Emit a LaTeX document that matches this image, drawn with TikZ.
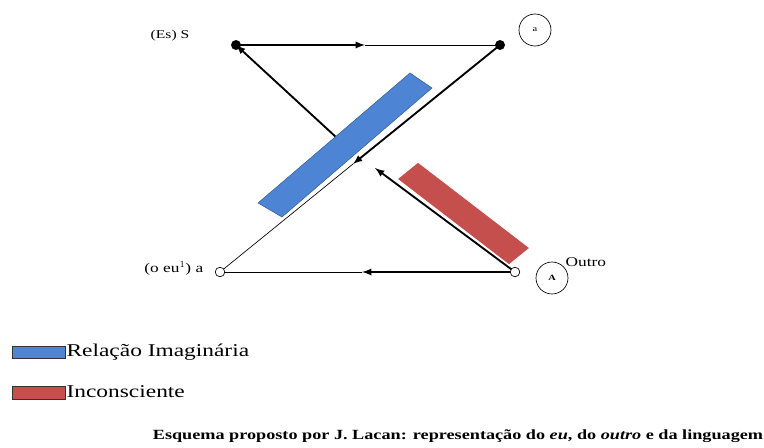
\documentclass[tikz,border=0pt]{standalone}
\usepackage{fontspec}
\setmainfont[FakeStretch=1.3]{Liberation Serif}
\usepackage{tikz}

\definecolor{imagblue}{RGB}{77,133,212}
\definecolor{inconred}{RGB}{196,79,76}

\begin{document}
\begin{tikzpicture}[x=0.75pt,y=-0.75pt,
	fwd/.style={line width=1.4pt, -latex},
	back/.style={line width=0.5pt},
	tag/.style={circle, draw, line width=0.5pt, minimum size=24pt, inner sep=0pt}]
	\useasboundingbox (0,0) rectangle (764,447);

	% the four places of the scheme
	\coordinate (S) at (236,45);
	\coordinate (a) at (500,45);
	\coordinate (eu) at (220,272);
	\coordinate (A) at (515,272);

	% half-way points where the arrow tips sit
	\coordinate (topmid) at (365,45);
	\coordinate (botmid) at (362,272);
	\coordinate (diagmid) at (353,164);
	\coordinate (outmid) at (375,168);
	\coordinate (imagend) at (337,138);

	\draw [fwd] (S) -- (topmid); \draw [back] (topmid) -- (a);
	\draw [fwd] (A) -- (botmid); \draw [back] (botmid) -- (eu);
	\draw [fwd] (a) -- (diagmid); \draw [back] (diagmid) -- (eu);
	\draw [fwd] (A) -- (outmid);
	\draw [fwd] (imagend) -- (S);

	% imaginary relation and unconscious
	\filldraw [fill=imagblue, draw=imagblue!70!black, line width=0.4pt]
		(258,203) -- (410,73) -- (432,88) -- (282,217) -- cycle;
	\filldraw [fill=inconred, draw=white, line width=0.8pt]
		(397,179) -- (418,162) -- (530,248) -- (509,265) -- cycle;

	\filldraw (S) circle (3.5pt);
	\filldraw (a) circle (3.5pt);
	\filldraw [fill=white, line width=0.5pt] (eu) circle (3.6pt);
	\filldraw [fill=white, line width=0.5pt] (A) circle (3.6pt);

	\node[tag] (taga) at (535,30) {\fontsize{6}{7}\selectfont a};
	\node[tag] (tagA) at (552,278) {\fontsize{6}{7}\selectfont\bfseries A};

	\node[left] (lblS) at (194,36) {\fontsize{9}{11}\selectfont (Es) S};
	\node[left] (lbleu) at (208,268) {\fontsize{10}{12}\selectfont (o eu$^{1}$) a};
	\node[right] (lblA) at (561,262) {\fontsize{10}{12}\selectfont Outro};

	% legend
	\filldraw [fill=imagblue, draw=black!80, line width=0.6pt] (12,346) rectangle (65,358);
	\node[right, inner sep=1pt] (legimag) at (65,352) {\fontsize{13.5}{15}\selectfont Relação Imaginária};
	\filldraw [fill=inconred, draw=black!80, line width=0.6pt] (12,386) rectangle (65,399);
	\node[right, inner sep=1pt] (leginc) at (65,392) {\fontsize{13.5}{15}\selectfont Inconsciente};

	\node (caption) at (458,436) {\fontsize{10.5}{12}\selectfont\bfseries Esquema proposto por J. Lacan: representação do \textit{eu}, do \textit{outro} e da linguagem};
\end{tikzpicture}
\end{document}
